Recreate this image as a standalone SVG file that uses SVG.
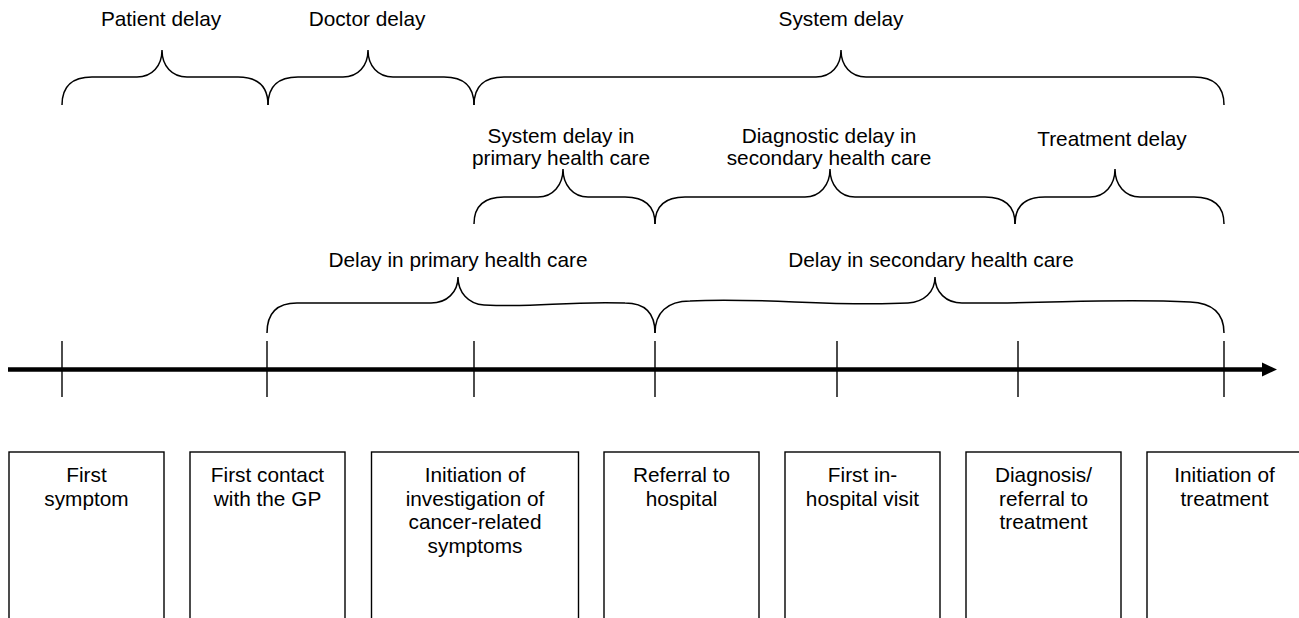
<svg xmlns="http://www.w3.org/2000/svg" width="1299" height="618" viewBox="0 0 1299 618">
<style>
text{font-family:"Liberation Sans",Arial,sans-serif;font-size:20.8px;fill:#000;text-anchor:middle}
.brace{fill:none;stroke:#000;stroke-width:1.5}
.tick{stroke:#000;stroke-width:1.4}
.box{fill:#fff;stroke:#000;stroke-width:1.4}
</style>
<rect width="1299" height="618" fill="#fff"/>
<g id="braces">
<g id="patient-delay">
<path class="brace" d="M62,105 C62,86 72,77 92,77 L137,77 C152,77 162,66 162,50 C162,66 172,77 187,77 L238,77 C258,77 268,86 268,105"/>
<text x="161" y="26">Patient delay</text>
</g>
<g id="doctor-delay">
<path class="brace" d="M268,105 C268,86 278,77 298,77 L343,77 C358,77 368,66 368,50 C368,66 378,77 393,77 L444,77 C464,77 474,86 474,105"/>
<text x="367" y="26">Doctor delay</text>
</g>
<g id="system-delay">
<path class="brace" d="M474,105 C474,86 484,77 504,77 L816,77 C831,77 841,66 841,50 C841,66 851,77 866,77 L1194,77 C1214,77 1224,86 1224,105"/>
<text x="841" y="26">System delay</text>
</g>
<g id="system-delay-primary">
<path class="brace" d="M474,224 C474,206 484,197 504,197 L538,197 C553,197 563,185 563,169 C563,185 573,197 588,197 L625,197 C645,197 655,206 655,224"/>
<text x="561" y="143">System delay in</text>
<text x="561" y="165">primary health care</text>
</g>
<g id="diagnostic-delay">
<path class="brace" d="M655,224 C655,206 665,197 685,197 L805,197 C820,197 830,185 830,169 C830,185 840,197 855,197 L985,197 C1005,197 1015,206 1015,224"/>
<text x="829" y="143">Diagnostic delay in</text>
<text x="829" y="165">secondary health care</text>
</g>
<g id="treatment-delay">
<path class="brace" d="M1015,224 C1015,206 1025,197 1045,197 L1090,197 C1105,197 1115,185 1115,169 C1115,185 1125,197 1140,197 L1194,197 C1214,197 1224,206 1224,224"/>
<text x="1112" y="146">Treatment delay</text>
</g>
<g id="delay-primary">
<path class="brace" d="M267,333 C267,313 277,303 297,303 L431,303 C447,303 458,292 458,277 C458,292 468,304 484,305 C540,308 560,301 625,303 C645,303 655,313 655,333"/>
<text x="458" y="267">Delay in primary health care</text>
</g>
<g id="delay-secondary">
<path class="brace" d="M655,333 C655,313 667,301 690,301 C760,297 830,307 908,303 C924,302 935,292 935,277 C935,292 946,303 962,303 C1050,304 1110,298 1190,302 C1213,303 1224,313 1224,333"/>
<text x="931" y="267">Delay in secondary health care</text>
</g>
</g>
<g id="connectors">
<line x1="8" y1="369.5" x2="1265" y2="369.5" stroke="#000" stroke-width="4.5"/>
<polygon points="1262,362.5 1277,369.5 1262,376.5" fill="#000"/>
<line class="tick" x1="62" y1="341" x2="62" y2="397"/>
<line class="tick" x1="267" y1="341" x2="267" y2="397"/>
<line class="tick" x1="474" y1="341" x2="474" y2="397"/>
<line class="tick" x1="655" y1="341" x2="655" y2="397"/>
<line class="tick" x1="837" y1="341" x2="837" y2="397"/>
<line class="tick" x1="1018" y1="341" x2="1018" y2="397"/>
<line class="tick" x1="1224" y1="341" x2="1224" y2="397"/>
</g>
<g id="node-first-symptom">
<rect class="box" x="9" y="452" width="155" height="200"/>
<text x="86.5" y="482">First</text>
<text x="86.5" y="505.5">symptom</text>
</g>
<g id="node-first-contact">
<rect class="box" x="190" y="452" width="155" height="200"/>
<text x="267.5" y="482">First contact</text>
<text x="267.5" y="505.5">with the GP</text>
</g>
<g id="node-initiation-investigation">
<rect class="box" x="371.5" y="452" width="207" height="200"/>
<text x="475" y="482">Initiation of</text>
<text x="475" y="505.5">investigation of</text>
<text x="475" y="529">cancer-related</text>
<text x="475" y="552.5">symptoms</text>
</g>
<g id="node-referral">
<rect class="box" x="604" y="452" width="155" height="200"/>
<text x="681.5" y="482">Referral to</text>
<text x="681.5" y="505.5">hospital</text>
</g>
<g id="node-first-inhospital">
<rect class="box" x="785" y="452" width="155" height="200"/>
<text x="862.5" y="482">First in-</text>
<text x="862.5" y="505.5">hospital visit</text>
</g>
<g id="node-diagnosis">
<rect class="box" x="966" y="452" width="155" height="200"/>
<text x="1043.5" y="482">Diagnosis/</text>
<text x="1043.5" y="505.5">referral to</text>
<text x="1043.5" y="529">treatment</text>
</g>
<g id="node-initiation-treatment">
<rect class="box" x="1147" y="452" width="155" height="200"/>
<text x="1224.5" y="482">Initiation of</text>
<text x="1224.5" y="505.5">treatment</text>
</g>
</svg>
